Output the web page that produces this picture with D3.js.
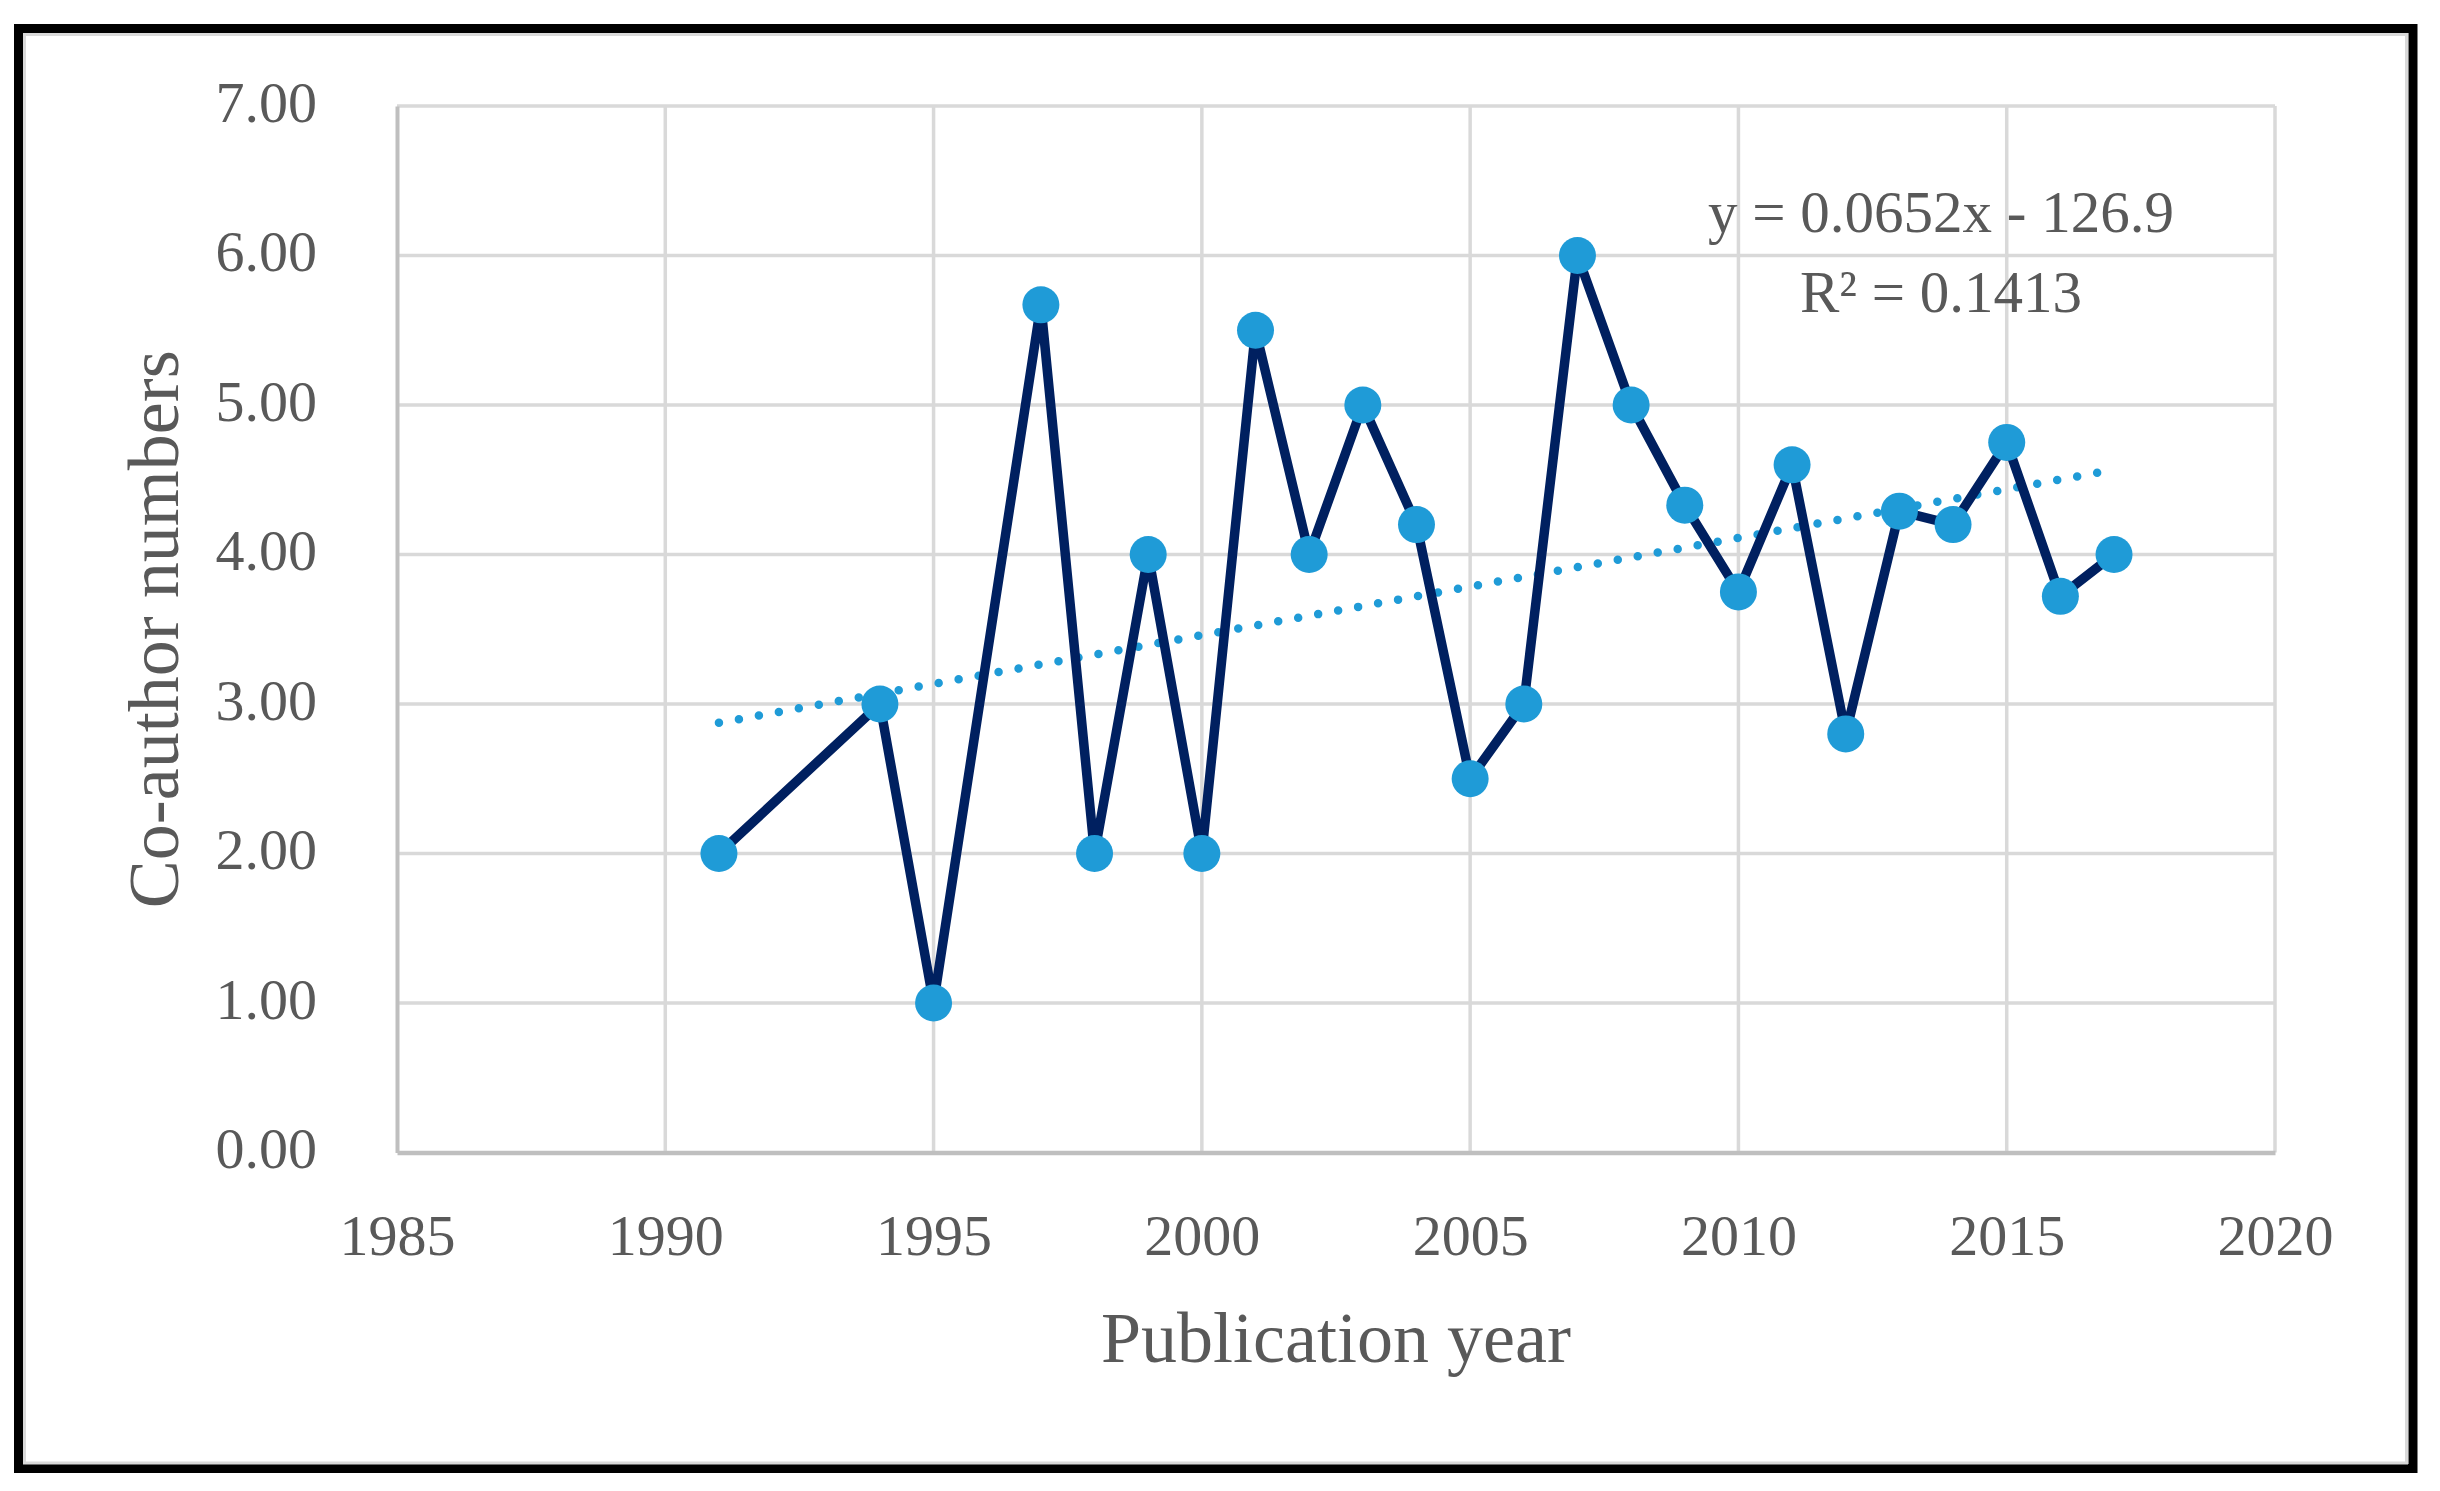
<!DOCTYPE html>
<html>
<head>
<meta charset="utf-8">
<script src="https://cdn.jsdelivr.net/npm/d3@7"></script>
<style>
  html, body { margin: 0; padding: 0; background: #fff; }
  svg { display: block; }
  text { font-family: "Palatino Linotype", "Book Antiqua", Palatino, "Liberation Serif", serif; fill: #595959; }
</style>
</head>
<body>
<svg id="chart" width="2440" height="1491"></svg>
<script>
// ---- data ----
const years = [1991, 1994, 1995, 1997, 1998, 1999, 2000, 2001, 2002, 2003, 2004, 2005,
               2006, 2007, 2008, 2009, 2010, 2011, 2012, 2013, 2014, 2015, 2016, 2017];
const coauthors = [2.00, 3.00, 1.00, 5.67, 2.00, 4.00, 2.00, 5.50, 4.00, 5.00, 4.20, 2.50,
                   3.00, 6.00, 5.00, 4.33, 3.75, 4.60, 2.80, 4.29, 4.20, 4.75, 3.72, 4.00];
const xTicks = [1985, 1990, 1995, 2000, 2005, 2010, 2015, 2020];
const yTicks = [0, 1, 2, 3, 4, 5, 6, 7];
const equationLines = ["y = 0.0652x - 126.9", "R² = 0.1413"];
const xTitle = "Publication year";
const yTitle = "Co-author numbers";

// ---- layout ----
const svg = d3.select("#chart");
const plot = { left: 397, right: 2275, top: 106, bottom: 1152.5 };

// outer frame
svg.append("rect").attr("x", 18.5).attr("y", 28.5).attr("width", 2394.5).attr("height", 1440)
  .attr("fill", "#fff").attr("stroke", "#000").attr("stroke-width", 9);
svg.append("rect").attr("x", 24.5).attr("y", 34.5).attr("width", 2382).attr("height", 1428.5)
  .attr("fill", "none").attr("stroke", "#d9d9d9").attr("stroke-width", 3);

const x = d3.scaleLinear().domain([1985, 2020]).range([plot.left, plot.right]);
const y = d3.scaleLinear().domain([0, 7]).range([plot.bottom, plot.top]);

// gridlines
const grid = svg.append("g");
grid.selectAll("line.h").data(yTicks.filter(d => d > 0)).enter().append("line")
  .attr("x1", plot.left).attr("x2", plot.right)
  .attr("y1", d => y(d)).attr("y2", d => y(d))
  .attr("stroke", "#d9d9d9").attr("stroke-width", 3.5);
grid.selectAll("line.v").data(xTicks.filter(d => d > 1985)).enter().append("line")
  .attr("x1", d => x(d)).attr("x2", d => x(d))
  .attr("y1", plot.top).attr("y2", plot.bottom)
  .attr("stroke", "#d9d9d9").attr("stroke-width", 3.5);

// axes
const xAxis = svg.append("g").attr("transform", `translate(0,${plot.bottom})`)
  .call(d3.axisBottom(x).tickValues(xTicks).tickFormat(d3.format("d")).tickSize(0).tickPadding(0));
xAxis.select(".domain").attr("stroke", "#bfbfbf").attr("stroke-width", 4.5);
xAxis.selectAll("text").attr("dy", null).attr("y", 102)
  .style("font-size", "58px").attr("fill", "#595959");

const yAxis = svg.append("g").attr("transform", `translate(${plot.left},0)`)
  .call(d3.axisLeft(y).tickValues(yTicks).tickFormat(d3.format(".2f")).tickSize(0).tickPadding(0));
yAxis.select(".domain").attr("stroke", "#bfbfbf").attr("stroke-width", 4);
yAxis.selectAll("text").attr("dy", null).attr("x", -80).attr("y", 15)
  .style("font-size", "58px").attr("fill", "#595959");

// axis titles
svg.append("text").attr("x", (plot.left + plot.right) / 2).attr("y", 1362)
  .attr("text-anchor", "middle").style("font-size", "72px").text(xTitle);
svg.append("text").attr("transform", `translate(178,${(plot.top + plot.bottom) / 2}) rotate(-90)`)
  .attr("text-anchor", "middle").style("font-size", "72px").text(yTitle);

// linear trendline (least squares fit of the series)
const mx = d3.mean(years), my = d3.mean(coauthors);
const sxy = d3.sum(years.map((v, i) => (v - mx) * (coauthors[i] - my)));
const sxx = d3.sum(years.map(v => (v - mx) * (v - mx)));
const slope = sxy / sxx, icpt = my - slope * mx;
const x0 = d3.min(years), x1 = d3.max(years);
svg.append("line")
  .attr("x1", x(x0)).attr("y1", y(icpt + slope * x0))
  .attr("x2", x(x1)).attr("y2", y(icpt + slope * x1))
  .attr("stroke", "#1f9bd7").attr("stroke-width", 8.5)
  .attr("stroke-linecap", "round").attr("stroke-dasharray", "0 20.3");

// series line
const pts = years.map((d, i) => [d, coauthors[i]]);
svg.append("path").datum(pts)
  .attr("d", d3.line().x(d => x(d[0])).y(d => y(d[1])))
  .attr("fill", "none").attr("stroke", "#002060").attr("stroke-width", 9.5)
  .attr("stroke-linejoin", "round");

// markers
svg.append("g").selectAll("circle").data(pts).enter().append("circle")
  .attr("cx", d => x(d[0])).attr("cy", d => y(d[1])).attr("r", 18.5)
  .attr("fill", "#1f9bd7");

// equation label
svg.append("g").selectAll("text").data(equationLines).enter().append("text")
  .attr("x", 1941).attr("y", (d, i) => 232 + i * 80)
  .attr("text-anchor", "middle").style("font-size", "59px").text(d => d);
</script>
</body>
</html>
